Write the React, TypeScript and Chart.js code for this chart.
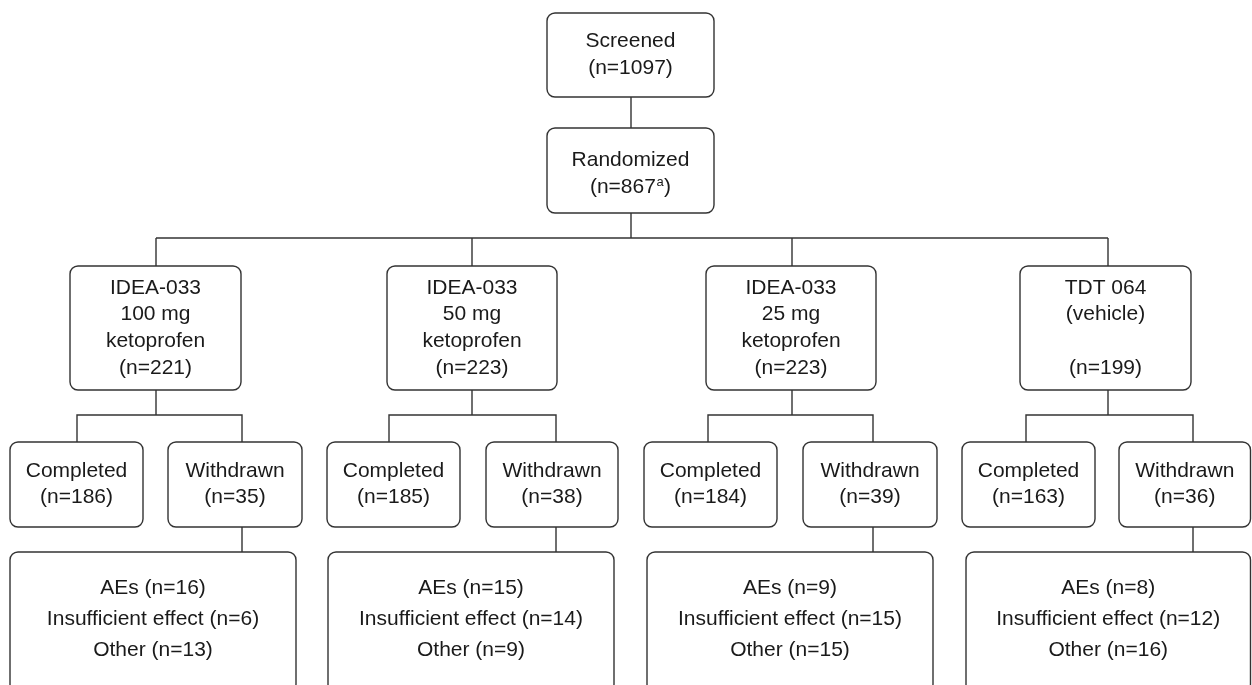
import React, { useEffect, useRef } from "react";
import { Chart, registerables } from "chart.js";

Chart.register(...registerables);

// ---------------- DATA ----------------
const screenedLabel = "Screened";
const screenedN = 1097;
const randomizedLabel = "Randomized";
const randomizedN = 867;
const randomizedNote = "a";
const armLabelLines = [
  ["IDEA-033", "100 mg", "ketoprofen"],
  ["IDEA-033", "50 mg", "ketoprofen"],
  ["IDEA-033", "25 mg", "ketoprofen"],
  ["TDT 064", "(vehicle)", ""],
];
const armRandomized = [221, 223, 223, 199];
const completedLabel = "Completed";
const armCompleted = [186, 185, 184, 163];
const withdrawnLabel = "Withdrawn";
const armWithdrawn = [35, 38, 39, 36];
const reasonLabels = ["AEs", "Insufficient effect", "Other"];
const withdrawnAEs = [16, 15, 9, 8];
const withdrawnInsufficient = [6, 14, 15, 12];
const withdrawnOther = [13, 9, 15, 16];

// ---------------- LAYOUT (chart units) ----------------
const W = 1252;
const H = 685;
const screenedBox = [547, 13, 714, 97];
const randomizedBox = [547, 128, 714, 213];
const randomizedStemX = 631;
const branchY = 238;
const armBoxX = [[70, 241], [387, 557], [706, 876], [1020, 1191]];
const armBoxY = [266, 390];
const armStemX = [156, 472, 792, 1108];
const armSplitY = 415;
const completedBoxX = [[10, 143], [327, 460], [644, 777], [962, 1095]];
const withdrawnBoxX = [[168, 302], [486, 618], [803, 937], [1119, 1250.5]];
const outcomeBoxY = [442, 527];
const completedStemX = [77, 389, 708, 1026];
const withdrawnStemX = [242, 556, 873, 1193];
const reasonBoxX = [[10, 296], [328, 614], [647, 933], [966, 1250.5]];
const reasonBoxY = [552, 692];
const reasonTextCenterY = 619;

const LINE_COLOR = "#333333";
const TEXT_COLOR = "#1a1a1a";
const FONT = '21px "Liberation Sans", Arial, sans-serif';
const SMALL_FONT = '13px "Liberation Sans", Arial, sans-serif';

type Box = {
  x0: number; y0: number; x1: number; y1: number;
  lines: string[]; spacing: number; cy?: number; note?: string;
};

function buildBoxes(): Box[] {
  const boxes: Box[] = [];
  boxes.push({ x0: screenedBox[0], y0: screenedBox[1], x1: screenedBox[2], y1: screenedBox[3],
    lines: [screenedLabel, `(n=${screenedN})`], spacing: 27 });
  boxes.push({ x0: randomizedBox[0], y0: randomizedBox[1], x1: randomizedBox[2], y1: randomizedBox[3],
    lines: [randomizedLabel, `(n=${randomizedN}`], spacing: 27, note: randomizedNote, cy: 174 });
  for (let i = 0; i < 4; i++) {
    boxes.push({ x0: armBoxX[i][0], y0: armBoxY[0], x1: armBoxX[i][1], y1: armBoxY[1],
      lines: [...armLabelLines[i], `(n=${armRandomized[i]})`], spacing: 26.7 });
    boxes.push({ x0: completedBoxX[i][0], y0: outcomeBoxY[0], x1: completedBoxX[i][1], y1: outcomeBoxY[1],
      lines: [completedLabel, `(n=${armCompleted[i]})`], spacing: 26 });
    boxes.push({ x0: withdrawnBoxX[i][0], y0: outcomeBoxY[0], x1: withdrawnBoxX[i][1], y1: outcomeBoxY[1],
      lines: [withdrawnLabel, `(n=${armWithdrawn[i]})`], spacing: 26 });
    boxes.push({ x0: reasonBoxX[i][0], y0: reasonBoxY[0], x1: reasonBoxX[i][1], y1: reasonBoxY[1],
      lines: [
        `${reasonLabels[0]} (n=${withdrawnAEs[i]})`,
        `${reasonLabels[1]} (n=${withdrawnInsufficient[i]})`,
        `${reasonLabels[2]} (n=${withdrawnOther[i]})`,
      ], spacing: 31, cy: reasonTextCenterY });
  }
  return boxes;
}

function buildConnectors(): { x: number; y: number }[][] {
  const c: { x: number; y: number }[][] = [];
  c.push([{ x: randomizedStemX, y: screenedBox[3] }, { x: randomizedStemX, y: randomizedBox[1] }]);
  c.push([{ x: randomizedStemX, y: randomizedBox[3] }, { x: randomizedStemX, y: branchY }]);
  c.push([{ x: armStemX[0], y: branchY }, { x: armStemX[3], y: branchY }]);
  for (let i = 0; i < 4; i++) {
    c.push([{ x: armStemX[i], y: branchY }, { x: armStemX[i], y: armBoxY[0] }]);
    c.push([{ x: armStemX[i], y: armBoxY[1] }, { x: armStemX[i], y: armSplitY }]);
    c.push([
      { x: completedStemX[i], y: outcomeBoxY[0] },
      { x: completedStemX[i], y: armSplitY },
      { x: withdrawnStemX[i], y: armSplitY },
      { x: withdrawnStemX[i], y: outcomeBoxY[0] },
    ]);
    c.push([{ x: withdrawnStemX[i], y: outcomeBoxY[1] }, { x: withdrawnStemX[i], y: reasonBoxY[0] }]);
  }
  return c;
}

const boxPlugin = {
  id: "flowBoxes",
  afterDatasetsDraw(chart: any) {
    const { ctx, scales } = chart;
    const sx = scales.x, sy = scales.y;
    const boxes = buildBoxes();
    ctx.save();
    for (const b of boxes) {
      const x0 = sx.getPixelForValue(b.x0), x1 = sx.getPixelForValue(b.x1);
      const y0 = sy.getPixelForValue(b.y0), y1 = sy.getPixelForValue(b.y1);
      ctx.beginPath();
      ctx.roundRect(x0, y0, x1 - x0, y1 - y0, 8);
      ctx.fillStyle = "#ffffff";
      ctx.fill();
      ctx.lineWidth = 1.4;
      ctx.strokeStyle = LINE_COLOR;
      ctx.stroke();
      const cx = (x0 + x1) / 2;
      const cyv = b.cy !== undefined ? b.cy : (b.y0 + b.y1) / 2;
      const n = b.lines.length;
      ctx.fillStyle = TEXT_COLOR;
      ctx.textBaseline = "middle";
      b.lines.forEach((line, k) => {
        const ty = sy.getPixelForValue(cyv + (k - (n - 1) / 2) * b.spacing);
        if (!line) return;
        if (b.note && k === n - 1) {
          ctx.font = FONT;
          const w1 = ctx.measureText(line).width;
          const w3 = ctx.measureText(")").width;
          ctx.font = SMALL_FONT;
          const w2 = ctx.measureText(b.note).width;
          const total = w1 + w2 + w3 + 1;
          let x = cx - total / 2;
          ctx.textAlign = "left";
          ctx.font = FONT;
          ctx.fillText(line, x, ty);
          x += w1;
          ctx.font = SMALL_FONT;
          ctx.fillText(b.note, x + 0.5, ty - 5);
          x += w2 + 1;
          ctx.font = FONT;
          ctx.fillText(")", x, ty);
        } else {
          ctx.font = FONT;
          ctx.textAlign = "center";
          ctx.fillText(line, cx, ty);
        }
      });
    }
    ctx.restore();
  },
};

export default function App() {
  const ref = useRef<HTMLCanvasElement | null>(null);
  useEffect(() => {
    document.body.style.margin = "0";
    document.body.style.background = "#ffffff";
    const canvas = ref.current;
    if (!canvas) return;
    const connectors = buildConnectors();
    const chart = new Chart(canvas, {
      type: "scatter",
      data: {
        datasets: connectors.map((pts) => ({
          data: pts,
          showLine: true,
          pointRadius: 0,
          pointHoverRadius: 0,
          borderColor: LINE_COLOR,
          borderWidth: 1.4,
          fill: false,
          tension: 0,
        })),
      },
      options: {
        responsive: false,
        animation: false,
        devicePixelRatio: 1,
        layout: { padding: 0 },
        plugins: { legend: { display: false }, tooltip: { enabled: false } },
        events: [],
        scales: {
          x: { type: "linear", min: 0, max: W, display: false },
          y: { type: "linear", min: 0, max: H, reverse: true, display: false },
        },
      },
      plugins: [boxPlugin],
    });
    return () => chart.destroy();
  }, []);
  return (
    <div style={{ width: W, height: H, background: "#fff" }}>
      <canvas ref={ref} width={W} height={H} style={{ display: "block" }} />
    </div>
  );
}
